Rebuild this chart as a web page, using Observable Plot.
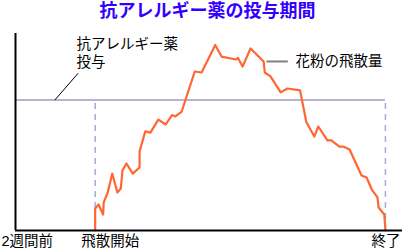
<!DOCTYPE html>
<html><head><meta charset="utf-8">
<script src="https://cdn.jsdelivr.net/npm/d3@7"></script>
<script src="https://cdn.jsdelivr.net/npm/@observablehq/plot@0.6"></script>
<style>
html,body{margin:0;padding:0;background:#fff;}
body{font-family:"Liberation Sans","Noto Sans CJK JP",sans-serif;width:402px;height:251px;overflow:hidden;}
#title{box-sizing:border-box;width:402px;height:26px;padding-left:13px;padding-top:1px;text-align:center;line-height:20px;font-size:18px;font-weight:bold;color:#3300ff;white-space:nowrap;}
#chart svg{display:block;}
</style></head><body>
<div id="title">抗アレルギー薬の投与期間</div>
<div id="chart"></div>
<script>
// Pollen dispersal curve (days from "2 weeks before", relative amount 0-100)
const days = [14, 14, 14.6, 15.4, 15.5, 16.2, 17.0, 17.9, 18.5, 18.8, 19.5, 20.6, 21.8, 21.8, 22.8, 23.7, 25.1, 26.4, 27.5, 28.1, 29.2, 31.5, 32.7, 35.1, 36.2, 38.7, 39.1, 39.9, 41.3, 43.6, 43.8, 44.8, 46.6, 47.8, 50.0, 51.1, 52.5, 53.2, 54.8, 55.5, 56.9, 57.6, 58.7, 60.8, 61.7, 62.6, 63.6, 63.8, 64.8, 65];
const pollen = [0, 11.2, 13.2, 8.1, 14.2, 19.3, 28.9, 19.3, 21.3, 30.5, 34.0, 28.9, 32.0, 40.1, 50.3, 49.7, 56.3, 53.8, 58.6, 57.9, 60.4, 80.7, 80.2, 94.2, 88.3, 86.8, 87.6, 83.2, 92.4, 85.8, 80.2, 78.2, 70.1, 72.1, 71.1, 55.1, 47.7, 52.8, 45.7, 45.7, 42.6, 42.6, 41.1, 27.9, 26.9, 20.8, 16.8, 11.7, 8.1, 0];
// Axis ticks
const tickDays = [0, 14, 65];
const tickLabels = ["2週間前", "飛散開始", "終了"];
// Dosing period
const dosingFrom = 0, dosingStart = 14, dosingEnd = 65, dosingLevel = 66.2;
// Annotations
const dosingLabelLines = ["抗アレルギー薬", "投与"];
const pollenLabel = "花粉の飛散量";

const series = days.map((d, i) => ({day: d, value: pollen[i]}));
const FONT = '"Liberation Sans","Noto Sans CJK JP",sans-serif';

const chart = Plot.plot({
  width: 402,
  height: 225,
  marginLeft: 15,
  marginRight: 0,
  marginTop: 7,
  marginBottom: 21,
  style: {fontFamily: FONT, fontSize: "14.5px", color: "#000", background: "#fff"},
  x: {domain: [0, 68], axis: null},
  y: {domain: [0, 100], axis: null},
  marks: [
    Plot.axisX({ticks: tickDays, tickFormat: (d) => tickLabels[tickDays.indexOf(d)], tickSize: 0, tickPadding: 5, textAnchor: "start", dx: -14, fontSize: 14.5, fill: "#000"}),
    // dosing period line
    Plot.ruleY([dosingLevel], {x1: dosingFrom, x2: dosingEnd, stroke: "#9a9acc", strokeWidth: 1.5}),
    Plot.ruleX([dosingStart, dosingEnd], {y1: 0, y2: dosingLevel, stroke: "#a8a8dc", strokeWidth: 1.5, strokeDasharray: "6,5"}),
    // pollen line
    Plot.line(series, {x: "day", y: "value", stroke: "#ff6633", strokeWidth: 2.2, curve: "linear"}),
    // axes frame lines
    Plot.ruleX([0], {y1: 0, y2: 100, stroke: "#000", strokeWidth: 2}),
    Plot.ruleY([0], {stroke: "#000", strokeWidth: 2}),
    // annotation leaders
    Plot.link([{x1: 6.9, y1: dosingLevel, x2: 11.0, y2: 79.8}], {x1: "x1", y1: "y1", x2: "x2", y2: "y2", stroke: "#000", strokeWidth: 1}),
    Plot.link([{x1: 44.1, y1: 85.8, x2: 47.85, y2: 85.8}], {x1: "x1", y1: "y1", x2: "x2", y2: "y2", stroke: "#808080", strokeWidth: 2}),
    // annotation texts
    Plot.text([dosingLabelLines[0]], {x: 10.7, y: 94.4, text: (d) => d, textAnchor: "start", lineAnchor: "middle", fontSize: 14.5, fill: "#000"}),
    Plot.text([dosingLabelLines[1]], {x: 10.7, y: 85.5, text: (d) => d, textAnchor: "start", lineAnchor: "middle", fontSize: 14.5, fill: "#000"}),
    Plot.text([pollenLabel], {x: 49.2, y: 85.8, text: (d) => d, textAnchor: "start", lineAnchor: "middle", fontSize: 14.5, fill: "#000"})
  ]
});
document.getElementById("chart").appendChild(chart);
</script>
</body></html>
